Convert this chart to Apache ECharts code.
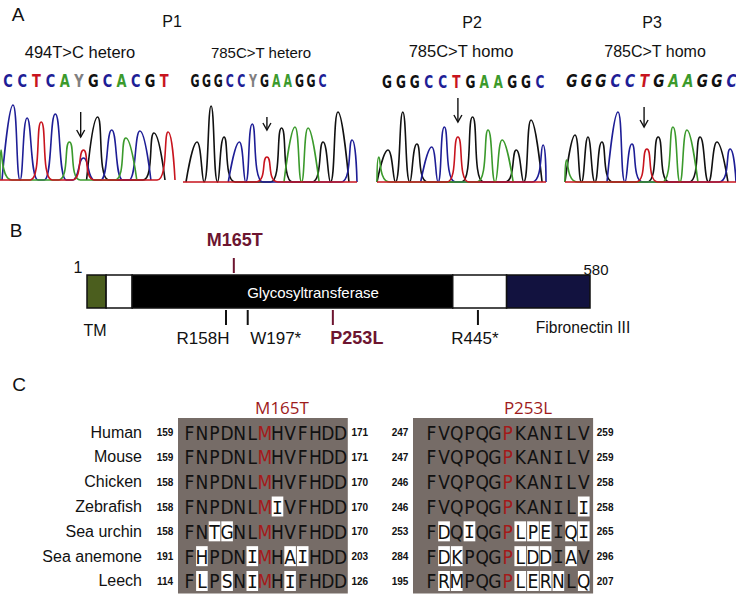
<!DOCTYPE html>
<html><head><meta charset="utf-8">
<script src="https://cdn.jsdelivr.net/npm/echarts@6.0.0/dist/echarts.min.js"></script>
<style>html,body{margin:0;padding:0;background:#fff}#c{width:736px;height:596px}</style>
</head><body><div id="c"></div>
<script>
// ================= DATA =================
// Panel A – chromatograms. Peaks: [base index, channel, peak height]
const traceLabels = ['494T>C hetero', '785C>T hetero', '785C>T homo', '785C>T homo'];
const patientLabels = ['P1', 'P2', 'P3'];
const seqP1a = ['C','C','T','C','A','Y','G','C','A','C','G','T'];
const seqP1b = ['G','G','G','C','C','Y','G','A','A','G','G','C'];
const seqP2  = ['G','G','G','C','C','T','G','A','A','G','G','C'];
const seqP3  = ['G','G','G','C','C','T','G','A','A','G','G','C'];
const peaksP1a = [[-0.85,'A',30],[0,'C',75],[1,'C',62],[2,'T',58],[3,'C',66],[4,'A',38],[5,'T',30],[5,'C',22],[6,'G',63],[7,'C',50],[8,'A',42],[9,'C',49],[10,'G',47],[11,'T',48]];
const peaksP1b = [[0,'G',40],[1,'G',76],[1.92,'G',45],[3,'C',40],[3.92,'C',58],[4.96,'T',25],[6,'G',54],[6.95,'A',55],[7.88,'A',54],[8.94,'G',40],[10,'G',70],[11,'C',42]];
const peaksP2  = [[-0.65,'A',25],[0,'G',32],[1.05,'G',70],[2.05,'G',38],[3.1,'C',35],[4,'C',55],[4.96,'T',45],[6,'G',65],[7.1,'A',52],[8.1,'A',42],[9.1,'G',32],[10.15,'G',62],[11,'C',37]];
const peaksP3  = [[-0.6,'A',22],[0,'G',47],[0.92,'G',45],[1.91,'G',40],[3.05,'C',70],[4.04,'C',38],[5.1,'T',33],[5.9,'G',45],[6.95,'A',55],[7.94,'A',52],[8.87,'G',45],[10.07,'G',40],[11,'C',33]];
const arrowIndex = [4.8, 4.96, 4.96, 4.9];

// Panel B – protein diagram (positions as drawn, residue scale 1–580)
const proteinLength = 580;
const segStart = [1, 23, 53, 422, 484];
const segEnd   = [23, 53, 422, 484, 580];
const segNames = ['TM', '', 'Glycosyltransferase', '', 'Fibronectin III'];
const mutNames = ['M165T', 'R158H', 'W197*', 'P253L', 'R445*'];
const mutDrawPos = [170, 161, 186, 284, 451];
const mutAbove = [true, false, false, false, false];
const mutHighlight = [true, false, false, true, false];

// Panel C – alignment
const species = ['Human','Mouse','Chicken','Zebrafish','Sea urchin','Sea anemone','Leech'];
const alnTitles = ['M165T', 'P253L'];
const seq1 = ['FNPDNLMHVFHDD','FNPDNLMHVFHDD','FNPDNLMHVFHDD','FNPDNLMIVFHDD','FNTGNLMHVFHDD','FHPDNIMHAIHDD','FLPSNIMHIFHDD'];
const start1 = [159,159,158,158,158,191,114];
const end1   = [171,171,170,170,170,203,126];
const seq2 = ['FVQPQGPKANILV','FVQPQGPKANILV','FVQPQGPKANILV','FVQPQGPKANILI','FDQIQGPLPEIQI','FDKPQGPLDDIAV','FRMPQGPLERNLQ'];
const start2 = [247,247,246,246,253,284,195];
const end2   = [259,259,258,258,265,296,207];
const mutColumn = 6;

// ================= STYLE / LAYOUT =================
const FONT = '"Liberation Sans", Arial, Helvetica, sans-serif';
const chColor = {A:'#3b9a2c', C:'#1e1e96', G:'#111111', T:'#c8141e', Y:'#808080'};
const traceLayout = [
  {x0:0,   x1:175, base:180, xmin:-0.922, xmax:11.49, lx:8,   ls:14.2, ly:81, tx:80,  ty:52, ts:16.5, aTop:68, aBot:43, sx:0.8,  italic:false},
  {x0:183, x1:357, base:182, xmin:-0.993, xmax:11.35, lx:195, ls:11.6, ly:81, tx:261, ty:52, ts:15,   aTop:65, aBot:52, sx:0.68, italic:false},
  {x0:377, x1:546, base:182, xmin:-0.78,  xmax:11.21, lx:387, ls:13.9, ly:82, tx:461, ty:51, ts:16.5, aTop:84, aBot:60, sx:0.75, italic:false},
  {x0:565, x1:736, base:182, xmin:-0.709, xmax:11.42, lx:572, ls:14.5, ly:81, tx:655, ty:51, ts:16,   aTop:75, aBot:55, sx:0.85, italic:true}
];
const seqs = [seqP1a, seqP1b, seqP2, seqP3];
const peaks = [peaksP1a, peaksP1b, peaksP2, peaksP3];
const segColors = ['#4b5e1e', '#ffffff', '#000000', '#ffffff', '#12123f'];
const mutLabelDx = [1, -23, 28, 24, -3];
const maroon = '#6d1530';
const PEAK_HALF_WIDTH = 0.78;

function channelData(pk, ch, xmin, xmax, full) {
  const ps = pk.filter(p => p[1] === ch).sort((a, b) => a[0] - b[0]);
  const W = PEAK_HALF_WIDTH;
  const pts = [];
  if (full) pts.push({x: xmin, y: 0, foot: false});
  ps.forEach(p => {
    const lf = Math.max(p[0] - W, xmin);
    const last = pts[pts.length - 1];
    if (last && last.x >= lf - 1e-6) {
      if (last.foot) { last.x = (last.peak + p[0]) / 2; }
    } else {
      pts.push({x: lf, y: 0, foot: false});
    }
    pts.push({x: p[0], y: p[2], foot: false});
    pts.push({x: Math.min(p[0] + W, xmax), y: 0, foot: true, peak: p[0]});
  });
  if (full) {
    const last = pts[pts.length - 1];
    if (!last || last.x < xmax - 1e-6) pts.push({x: xmax, y: 0});
  }
  return pts.map(p => [p.x, p.y]);
}

function tstyle(text, fill, font, align) {
  return {text: text, fill: fill, font: font, textAlign: align || 'center', textVerticalAlign: 'middle',
    align: align || 'center', verticalAlign: 'middle'};
}

const grids = [], xAxes = [], yAxes = [], series = [], graphics = [];
const H = 596;

traceLayout.forEach((L, t) => {
  grids.push({left: L.x0, width: L.x1 - L.x0, bottom: H - L.base - 1.5, height: 111.5});
  xAxes.push({gridIndex: t, type: 'value', min: L.xmin, max: L.xmax, show: false});
  yAxes.push({gridIndex: t, type: 'value', min: -1.5, max: 110, show: false});
  ['G', 'C', 'A', 'T'].forEach(ch => {
    series.push({
      type: 'line', xAxisIndex: t, yAxisIndex: t, symbol: 'none', smooth: 0.5,
      data: channelData(peaks[t], ch, L.xmin, L.xmax, ch === 'T'),
      lineStyle: {color: chColor[ch], width: 1.6}, silent: true, z: ch === 'T' ? 3 : 2
    });
  });
  series.push({
    type: 'custom', xAxisIndex: t, yAxisIndex: t, clip: false, z: 5,
    data: [[arrowIndex[t], L.aTop, L.aBot]],
    renderItem: (params, api) => {
      const a = api.coord([api.value(0), api.value(1)]);
      const b = api.coord([api.value(0), api.value(2)]);
      return {type: 'group', children: [
        {type: 'line', shape: {x1: a[0], y1: a[1], x2: b[0], y2: b[1]}, style: {stroke: '#111', lineWidth: 1.4}},
        {type: 'polyline', shape: {points: [[b[0] - 4, b[1] - 7], [b[0], b[1]], [b[0] + 4, b[1] - 7]]}, style: {stroke: '#111', fill: null, lineWidth: 1.4}}
      ]};
    }
  });
  seqs[t].forEach((c, i) => {
    graphics.push({type: 'text', x: L.lx + i * L.ls, y: L.ly, scaleX: L.sx,
      style: tstyle(c, chColor[c], (L.italic ? 'italic ' : '') + 'bold 18px "DejaVu Sans Condensed", "DejaVu Sans", sans-serif')});
  });
  graphics.push({type: 'text', x: L.tx, y: L.ty, style: tstyle(traceLabels[t], '#111', L.ts + 'px ' + FONT)});
});

function txt(text, x, y, size, opts) {
  opts = opts || {};
  return {type: 'text', x: x, y: y, z: 10, style: tstyle(text, opts.fill || '#111',
    (opts.weight ? opts.weight + ' ' : '') + size + 'px ' + (opts.family || FONT), opts.align)};
}
graphics.push(txt('A', 18, 14, 19));
graphics.push(txt(patientLabels[0], 172, 21, 16));
graphics.push(txt(patientLabels[1], 472, 22, 16));
graphics.push(txt(patientLabels[2], 652, 22, 16));

// ---- Panel B ----
const gB = grids.length;
grids.push({left: 87, width: 503, top: 275, height: 33});
xAxes.push({gridIndex: gB, type: 'value', min: 1, max: proteinLength, show: false});
yAxes.push({gridIndex: gB, type: 'value', min: 0, max: 1, show: false});
series.push({
  type: 'custom', xAxisIndex: gB, yAxisIndex: gB, clip: false,
  data: segStart.map((s, i) => [s, segEnd[i], i]),
  renderItem: (params, api) => {
    const p1 = api.coord([api.value(0), 1]);
    const p2 = api.coord([api.value(1), 0]);
    return {type: 'rect', shape: {x: p1[0], y: p1[1], width: p2[0] - p1[0], height: p2[1] - p1[1]},
      style: {fill: segColors[api.value(2)], stroke: '#111', lineWidth: 1.5}};
  }
});
series.push({
  type: 'custom', xAxisIndex: gB, yAxisIndex: gB, clip: false, z: 4,
  data: mutDrawPos.map((p, i) => [p, i]),
  renderItem: (params, api) => {
    const i = api.value(1);
    const cs = params.coordSys;
    const x = api.coord([api.value(0), 0])[0];
    const col = mutHighlight[i] ? maroon : '#111';
    const y1 = mutAbove[i] ? cs.y - 17 : cs.y + cs.height + 2;
    const y2 = mutAbove[i] ? cs.y - 2 : cs.y + cs.height + 17;
    const ly = mutAbove[i] ? cs.y - 35 : cs.y + cs.height + 30;
    return {type: 'group', children: [
      {type: 'rect', shape: {x: x - 1, y: y1, width: 2, height: y2 - y1}, style: {fill: col}},
      {type: 'text', x: x + mutLabelDx[i], y: ly, style: tstyle(mutNames[i], col, (mutHighlight[i] ? 'bold 18px ' : '17px ') + FONT)}
    ]};
  }
});
graphics.push(txt('B', 16, 230, 19));
graphics.push(txt('1', 78, 267, 16));
graphics.push(txt(String(proteinLength), 596, 269, 15));
graphics.push(txt(segNames[0], 95, 330, 16));
graphics.push(txt(segNames[2], 313, 292, 15, {fill: '#ffffff'}));
graphics.push(txt(segNames[4], 583, 327, 15.6));

// ---- Panel C ----
graphics.push(txt('C', 19, 384, 19));
const alnLayout = [
  {left: 183, width: 163.8, padL: 5, padR: 1, numL: 18, numR: 13, titleX: 282, names: true},
  {left: 425, width: 165.1, padL: 12, padR: 3, numL: 25, numR: 15, titleX: 528, names: false}
];
const alnSeqs = [seq1, seq2], alnStart = [start1, start2], alnEnd = [end1, end2];
alnLayout.forEach((A, k) => {
  const g = grids.length;
  grids.push({left: A.left, width: A.width, top: 419.6, height: 173.8});
  xAxes.push({gridIndex: g, type: 'value', min: -0.5, max: 12.5, show: false});
  yAxes.push({gridIndex: g, type: 'category', data: species, inverse: true, show: false});
  series.push({
    type: 'custom', xAxisIndex: g, yAxisIndex: g, clip: false, z: 1, data: [[0, 0]],
    renderItem: (params, api) => {
      const cs = params.coordSys;
      return {type: 'rect', shape: {x: cs.x - A.padL, y: cs.y - 1.6, width: cs.width + A.padL + A.padR, height: cs.height + 1.6},
        style: {fill: '#766c67'}};
    }
  });
  const S = alnSeqs[k];
  series.push({
    type: 'custom', xAxisIndex: g, yAxisIndex: g, clip: false, z: 3,
    data: species.map((s, r) => [0, r]),
    renderItem: (params, api) => {
      const r = api.value(1);
      const cs = params.coordSys;
      const cw = api.size([1, 0])[0];
      const children = [];
      const seq = S[r];
      for (let c = 0; c < seq.length; c++) {
        const p = api.coord([c, r]);
        if (seq[c] !== S[0][c]) {
          children.push({type: 'rect', shape: {x: p[0] - cw / 2 + 0.5, y: p[1] - 10, width: cw - 1, height: 20}, style: {fill: '#ffffff'}});
        }
        const isI = seq[c] === 'I';
        const fam = isI ? '"DejaVu Sans Mono", monospace' : '"DejaVu Sans Condensed", "DejaVu Sans", sans-serif';
        children.push({type: 'text', x: p[0], y: p[1] + 0.5,
          style: tstyle(seq[c], c === mutColumn ? '#a51a1a' : '#111', (isI ? '18px ' : '19px ') + fam)});
      }
      const py = api.coord([0, r])[1];
      if (A.names) {
        children.push({type: 'text', x: cs.x - 41, y: py, style: tstyle(species[r], '#111', '16px ' + FONT, 'right')});
      }
      children.push({type: 'text', x: cs.x - A.numL, y: py + 0.5, style: tstyle(String(alnStart[k][r]), '#111', 'bold 10px ' + FONT)});
      children.push({type: 'text', x: cs.x + cs.width + A.numR, y: py + 0.5, style: tstyle(String(alnEnd[k][r]), '#111', 'bold 10px ' + FONT)});
      return {type: 'group', children: children};
    }
  });
  graphics.push(txt(alnTitles[k], A.titleX, 407, 17, {fill: '#9e1b1b', family: '"Open Sans", sans-serif'}));
});

const chart = echarts.init(document.getElementById('c'), null, {renderer: 'svg', width: 736, height: 596});
chart.setOption({
  animation: false,
  backgroundColor: '#ffffff',
  grid: grids, xAxis: xAxes, yAxis: yAxes, series: series, graphic: graphics
});
</script></body></html>
